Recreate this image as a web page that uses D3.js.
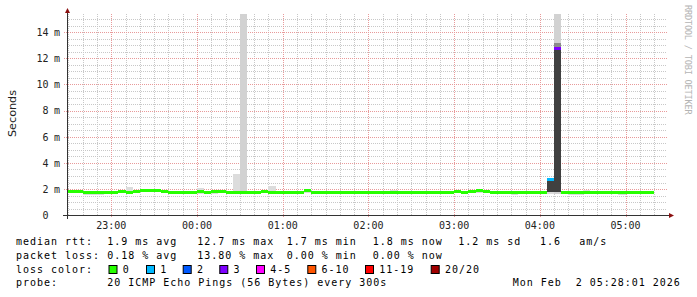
<!DOCTYPE html>
<html>
<head>
<meta charset="utf-8">
<script src="https://cdn.jsdelivr.net/npm/d3@7"></script>
<style>
  body { margin: 0; background: #fff; }
  svg text { font-family: "DejaVu Sans Mono", monospace; }
</style>
</head>
<body>
<script>
// smokeping style rtt graph, 5 minute steps
const firstStepEnd = '2026-02-01T22:30:00Z';
const stepMinutes = 5;

// median rtt per step (ms)
const medianMs = [
  1.85, 1.85, 1.82, 1.72, 1.72, 1.74, 1.74, 1.76, 1.80, 1.78,
  1.85, 1.90, 1.92, 1.90, 1.85, 1.72, 1.75, 1.75, 1.76, 1.79,
  1.72, 1.79, 1.79, 1.73, 1.78, 1.78, 1.78, 1.72, 1.80, 1.72,
  1.78, 1.76, 1.76, 1.76, 1.86, 1.76, 1.76, 1.76, 1.77, 1.77,
  1.78, 1.76, 1.77, 1.78, 1.76, 1.77, 1.78, 1.77, 1.76, 1.78,
  1.77, 1.78, 1.76, 1.77, 1.78, 1.80, 1.78, 1.84, 1.86, 1.82,
  1.78, 1.77, 1.78, 1.78, 1.77, 1.76, 1.77, 1.78, 2.72, 12.75,
  1.78, 1.77, 1.77, 1.78, 1.77, 1.77, 1.78, 1.77, 1.77, 1.78,
  1.78, 1.77, 1.78
];
// lost pings out of 20 per step
const lossCount = [
  0, 0, 0, 0, 0, 0, 0, 0, 0, 0,
  0, 0, 0, 0, 0, 0, 0, 0, 0, 0,
  0, 0, 0, 0, 0, 0, 0, 0, 0, 0,
  0, 0, 0, 0, 0, 0, 0, 0, 0, 0,
  0, 0, 0, 0, 0, 0, 0, 0, 0, 0,
  0, 0, 0, 0, 0, 0, 0, 0, 0, 0,
  0, 0, 0, 0, 0, 0, 0, 0, 1, 3,
  0, 0, 0, 0, 0, 0, 0, 0, 0, 0,
  0, 0, 0
];
// smoke: min / max ping per step (ms)
const smokeLoMs = [
  1.72, 1.72, 1.70, 1.58, 1.56, 1.58, 1.62, 1.64, 1.68, 1.66,
  1.74, 1.80, 1.82, 1.80, 1.74, 1.62, 1.64, 1.64, 1.64, 1.62,
  1.60, 1.66, 1.68, 1.62, 1.62, 1.64, 1.66, 1.62, 1.68, 1.62,
  1.66, 1.64, 1.64, 1.64, 1.74, 1.64, 1.64, 1.64, 1.66, 1.66,
  1.66, 1.64, 1.66, 1.66, 1.64, 1.66, 1.66, 1.64, 1.64, 1.66,
  1.66, 1.66, 1.64, 1.66, 1.66, 1.68, 1.66, 1.72, 1.74, 1.70,
  1.66, 1.60, 1.66, 1.58, 1.66, 1.64, 1.66, 1.64, 1.62, 1.60,
  1.66, 1.58, 1.58, 1.66, 1.60, 1.66, 1.66, 1.60, 1.58, 1.66,
  1.66, 1.60, 1.66
];
const smokeHiMs = [
  1.90, 1.90, 1.88, 1.80, 1.78, 1.80, 1.80, 1.82, 1.86, 2.20,
  1.90, 1.95, 1.96, 1.95, 1.90, 1.80, 1.80, 1.80, 1.82, 2.10,
  1.78, 1.84, 1.84, 1.80, 3.15, 15.40, 1.84, 1.80, 1.86, 2.25,
  1.84, 1.82, 1.82, 1.82, 1.90, 1.82, 1.82, 1.82, 1.82, 1.82,
  1.84, 1.82, 1.82, 1.84, 1.82, 1.82, 1.92, 1.82, 1.82, 1.84,
  1.82, 1.84, 1.82, 1.82, 1.84, 1.86, 1.84, 1.90, 1.92, 1.88,
  1.84, 1.82, 1.84, 1.84, 1.82, 1.82, 1.82, 1.84, 2.80, 15.40,
  1.84, 1.82, 1.82, 1.90, 1.82, 1.82, 1.84, 1.82, 1.82, 1.84,
  1.84, 1.82, 1.84
];
// denser smoke bands around the lossy steps
const coreSteps = [68, 69];
const coreLoMs = [1.78, 1.80];
const coreHiMs = [2.72, 12.75];
const midSteps = [69];
const midLoMs = [12.75];
const midHiMs = [13.2];

const lossLabels = ['0', '1', '2', '3', '4-5', '6-10', '11-19', '20/20'];
const lossColors = ['#26ff00', '#00b8ff', '#0059ff', '#7e00ff', '#ff00ff', '#ff5500', '#ff0000', '#a10000'];
const lossMax = [0, 1, 2, 3, 5, 10, 19, 20];

const yTicks = [0, 2, 4, 6, 8, 10, 12, 14];
const xTickLabels = ['23:00', '00:00', '01:00', '02:00', '03:00', '04:00', '05:00'];

const legendRows = [
  ['median rtt:', '1.9 ms avg', '12.7 ms max', '1.7 ms min', '1.8 ms now', '1.2 ms sd', '1.6', 'am/s'],
  ['packet loss:', '0.18 % avg', '13.80 % max', '0.00 % min', '0.00 % now']
];
const probeText = '20 ICMP Echo Pings (56 Bytes) every 300s';
const stampText = 'Mon Feb  2 05:28:01 2026';

const W = 697, H = 297;
const plot = { left: 67, right: 667, top: 14, bottom: 215 };

const svg = d3.select('body').append('svg')
    .attr('width', W)
    .attr('height', H)
    .style('display', 'block');

const t0 = new Date('2026-02-01T22:29:00Z');
const t1 = new Date('2026-02-02T05:29:00Z');
const x = d3.scaleUtc().domain([t0, t1]).range([plot.left, plot.right]);
const y = d3.scaleLinear().domain([0, 15.38]).range([plot.bottom + 0.3, plot.top]);

const stepEnd = i => new Date(+new Date(firstStepEnd) + i * stepMinutes * 60000);
const colX0 = i => Math.max(plot.left, x(new Date(+stepEnd(i) - stepMinutes * 60000)));
const colX1 = i => Math.min(plot.right, x(stepEnd(i)));
const topClip = v => Math.max(plot.top, y(v));

// grid: minor first, then major
const grid = svg.append('g').attr('shape-rendering', 'crispEdges');
const minorT = d3.utcMinute.every(10).range(t0, t1);
grid.selectAll('.vmin').data(minorT.filter(t => t.getUTCMinutes() !== 0))
  .join('line')
    .attr('x1', d => Math.round(x(d)) + 0.5).attr('x2', d => Math.round(x(d)) + 0.5)
    .attr('y1', plot.top).attr('y2', plot.bottom)
    .attr('stroke', '#c8c8c8').attr('stroke-dasharray', '1,1');
const minorY = d3.range(0.5, 15.4, 0.5).filter(v => v % 2 !== 0);
grid.selectAll('.hmin').data(minorY)
  .join('line')
    .attr('x1', plot.left).attr('x2', plot.right)
    .attr('y1', d => Math.round(y(d)) + 0.5).attr('y2', d => Math.round(y(d)) + 0.5)
    .attr('stroke', '#c8c8c8').attr('stroke-dasharray', '1,1');
const hourT = d3.utcHour.every(1).range(t0, t1);
grid.selectAll('.vmaj').data(hourT)
  .join('line')
    .attr('x1', d => Math.round(x(d)) + 0.5).attr('x2', d => Math.round(x(d)) + 0.5)
    .attr('y1', plot.top).attr('y2', plot.bottom + 3)
    .attr('stroke', '#e89a9a').attr('stroke-dasharray', '1,1');
grid.selectAll('.hmaj').data(yTicks.slice(1))
  .join('line')
    .attr('x1', plot.left - 3).attr('x2', plot.right)
    .attr('y1', d => Math.round(y(d)) + 0.5).attr('y2', d => Math.round(y(d)) + 0.5)
    .attr('stroke', '#e89a9a').attr('stroke-dasharray', '1,1');

// smoke
const smoke = svg.append('g').attr('shape-rendering', 'crispEdges');
smoke.selectAll('.light').data(medianMs.map((m, i) => i))
  .join('rect')
    .attr('x', i => colX0(i)).attr('width', i => colX1(i) - colX0(i))
    .attr('y', i => topClip(smokeHiMs[i]))
    .attr('height', i => y(smokeLoMs[i]) - topClip(smokeHiMs[i]))
    .attr('fill', i => smokeHiMs[i] > 10 ? '#d2d2d2' : '#dcdcdc');
smoke.selectAll('.mid').data(midSteps)
  .join('rect')
    .attr('x', (s) => colX0(s)).attr('width', s => colX1(s) - colX0(s))
    .attr('y', (s, j) => y(midHiMs[j]))
    .attr('height', (s, j) => y(midLoMs[j]) - y(midHiMs[j]))
    .attr('fill', '#8c8c8c');
smoke.selectAll('.core').data(coreSteps)
  .join('rect')
    .attr('x', s => colX0(s)).attr('width', s => colX1(s) - colX0(s))
    .attr('y', (s, j) => y(coreHiMs[j]))
    .attr('height', (s, j) => y(coreLoMs[j]) - y(coreHiMs[j]))
    .attr('fill', '#404040');

// median, coloured by loss
const lossColor = n => lossColors[lossMax.findIndex(m => n <= m)];
svg.append('g').attr('shape-rendering', 'crispEdges')
  .selectAll('rect').data(medianMs)
  .join('rect')
    .attr('x', (m, i) => colX0(i)).attr('width', (m, i) => colX1(i) - colX0(i))
    .attr('y', m => y(m) - 1.5).attr('height', 3)
    .attr('fill', (m, i) => lossColor(lossCount[i]));

// axes
const axisColor = '#333';
const arrowColor = '#8b1010';
svg.append('line')
    .attr('x1', plot.left - 4).attr('x2', plot.right + 2)
    .attr('y1', plot.bottom + 0.5).attr('y2', plot.bottom + 0.5)
    .attr('stroke', axisColor);
svg.append('line')
    .attr('x1', plot.left + 0.5).attr('x2', plot.left + 0.5)
    .attr('y1', plot.bottom + 4).attr('y2', plot.top - 3)
    .attr('stroke', axisColor);
svg.append('path')
    .attr('d', `M${plot.right + 2},${plot.bottom - 2} L${plot.right + 7},${plot.bottom + 0.5} L${plot.right + 2},${plot.bottom + 3} Z`)
    .attr('fill', arrowColor);
svg.append('path')
    .attr('d', `M${plot.left - 2},${plot.top - 1} L${plot.left + 0.5},${plot.top - 6} L${plot.left + 3},${plot.top - 1} Z`)
    .attr('fill', arrowColor);

// y labels
const yl = svg.append('g').attr('font-size', '10px').attr('fill', '#222');
yl.selectAll('.num').data(yTicks)
  .join('text')
    .attr('x', 48.5).attr('y', d => y(d) + 3.8)
    .attr('text-anchor', 'end')
    .text(d => d);
yl.selectAll('.unit').data(yTicks.filter(d => d > 0))
  .join('text')
    .attr('x', 54).attr('y', d => y(d) + 3.8)
    .text('m');

// x labels
svg.append('g').attr('font-size', '10px').attr('fill', '#222')
  .selectAll('text').data(hourT)
  .join('text')
    .attr('x', d => x(d)).attr('y', 228.5)
    .attr('text-anchor', 'middle')
    .text((d, i) => xTickLabels[i]);

svg.append('text')
    .attr('transform', 'translate(15.5,113.5) rotate(-90)')
    .attr('text-anchor', 'middle')
    .style('font-family', '"DejaVu Sans", sans-serif')
    .attr('font-size', '11.2px')
    .attr('fill', '#222')
    .text('Seconds');

svg.append('text')
    .attr('transform', 'translate(685,5) rotate(90)')
    .attr('font-size', '8.6px')
    .attr('letter-spacing', '-0.2px')
    .attr('fill', '#b4b4b4')
    .text('RRDTOOL / TOBI OETIKER');

// legend
const legend = svg.append('g')
    .attr('font-size', '10px')
    .attr('letter-spacing', '0.98px')
    .attr('fill', '#000');
const rowY = [245, 258.8, 272.6, 286.4];
const rowX = [
  [16, 107.3, 197.3, 286.7, 372.7, 458.3, 540, 579.3],
  [16, 107.3, 197.3, 286.7, 372.7]
];
legendRows.forEach((row, r) => {
  row.forEach((s, c) => {
    legend.append('text').attr('x', rowX[r][c]).attr('y', rowY[r])
      .style('white-space', 'pre').text(s);
  });
});
legend.append('text').attr('x', 16).attr('y', rowY[2]).text('loss color:');
const swatchX = [108.5, 146, 182.7, 219.3, 256, 307.3, 365, 430.7];
lossLabels.forEach((lab, i) => {
  legend.append('rect')
    .attr('x', swatchX[i] + 0.5).attr('y', 265.5)
    .attr('width', 8).attr('height', 8)
    .attr('fill', lossColors[i]).attr('stroke', '#000');
  legend.append('text').attr('x', swatchX[i] + 14.3).attr('y', rowY[2]).text(lab);
});
legend.append('text').attr('x', 16).attr('y', rowY[3]).text('probe:');
legend.append('text').attr('x', 107.3).attr('y', rowY[3]).text(probeText);
legend.append('text').attr('x', 512.7).attr('y', rowY[3])
    .style('white-space', 'pre').text(stampText);
</script>
</body>
</html>
